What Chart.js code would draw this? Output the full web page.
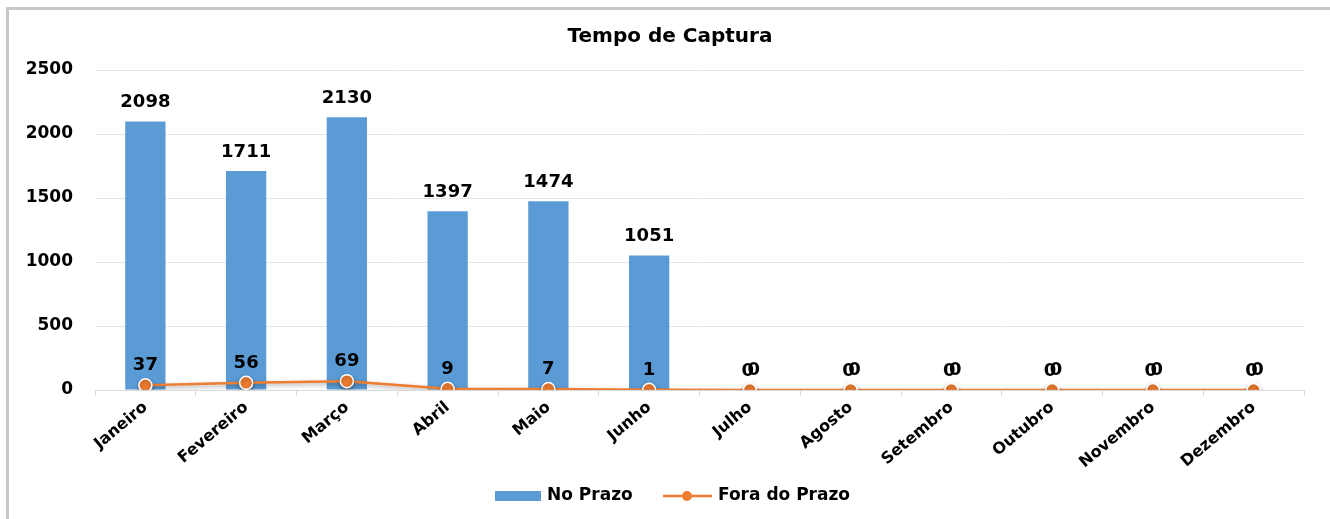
<!DOCTYPE html>
<html>
<head>
<meta charset="utf-8">
<script src="https://cdn.jsdelivr.net/npm/chart.js@4"></script>
<style>
  html, body { margin:0; padding:0; background:#fff; }
  #wrap { position:relative; width:1330px; height:519px; overflow:hidden; }
  #frame { position:absolute; left:6px; top:7px; width:1330px; height:520px;
           border-top:3px solid #c8c8c8; border-left:3px solid #c8c8c8; box-sizing:border-box; }
  #c { position:absolute; left:0; top:0; }
</style>
</head>
<body>
<div id="wrap">
  <div id="frame"></div>
  <canvas id="c" width="1330" height="519"></canvas>
</div>
<script>
const meses = ["Janeiro","Fevereiro","Março","Abril","Maio","Junho","Julho","Agosto","Setembro","Outubro","Novembro","Dezembro"];
const no_prazo = [2098,1711,2130,1397,1474,1051,0,0,0,0,0,0];
const fora_prazo = [37,56,69,9,7,1,0,0,0,0,0,0];
const y_ticks = [0,500,1000,1500,2000,2500];

const FONT = "'DejaVu Sans', Verdana, sans-serif";
const AZUL = '#5b9bd5';
const LARANJA = '#ed7d31';

// rotulos de dados, titulo e legenda desenhados a mao
const extras = {
  id: 'extras',
  afterDatasetsDraw(chart){
    const ctx = chart.ctx;
    ctx.save();
    ctx.fillStyle = '#000';
    ctx.font = 'bold 18px ' + FONT;
    ctx.textAlign = 'center';
    ctx.textBaseline = 'middle';
    const bars = chart.getDatasetMeta(0).data;
    bars.forEach((b, i) => {
      const dx = no_prazo[i] === 0 ? -2 : 0;
      ctx.fillText(String(no_prazo[i]), b.x + dx, b.y - 19);
    });
    const pts = chart.getDatasetMeta(1).data;
    pts.forEach((p, i) => {
      const dx = fora_prazo[i] === 0 ? 4 : 0;
      ctx.fillText(String(fora_prazo[i]), p.x + dx, p.y - 20);
    });
    // titulo
    ctx.font = 'bold 20px ' + FONT;
    ctx.fillText('Tempo de Captura', 670, 37);
    // legenda
    const ly = 496;
    ctx.fillStyle = AZUL;
    ctx.fillRect(495, ly - 5, 46, 10);
    ctx.fillStyle = '#000';
    ctx.textAlign = 'left';
    ctx.font = 'bold 17px ' + FONT;
    ctx.fillText('No Prazo', 547, ly);
    ctx.strokeStyle = LARANJA;
    ctx.lineWidth = 2.5;
    ctx.beginPath(); ctx.moveTo(663, ly); ctx.lineTo(712, ly); ctx.stroke();
    ctx.fillStyle = LARANJA;
    ctx.beginPath(); ctx.arc(687, ly, 5, 0, Math.PI*2); ctx.fill();
    ctx.fillStyle = '#000';
    ctx.fillText('Fora do Prazo', 718, ly);
    ctx.restore();
  }
};

const sombra = {
  id: 'sombra',
  beforeDatasetDraw(chart, args){
    if (args.index === 1) {
      chart.ctx.save();
      chart.ctx.shadowColor = 'rgba(0,0,0,0.35)';
      chart.ctx.shadowBlur = 4;
      chart.ctx.shadowOffsetY = 2;
    }
  },
  afterDatasetDraw(chart, args){
    if (args.index === 1) chart.ctx.restore();
  }
};

new Chart(document.getElementById('c'), {
  type: 'bar',
  data: {
    labels: meses,
    datasets: [{
      label: 'No Prazo',
      data: no_prazo,
      backgroundColor: AZUL,
      barPercentage: 0.4,
      categoryPercentage: 1,
      order: 2
    },{
      type: 'line',
      label: 'Fora do Prazo',
      data: fora_prazo,
      borderColor: LARANJA,
      borderWidth: 2.5,
      backgroundColor: LARANJA,
      pointBackgroundColor: LARANJA,
      pointBorderColor: '#fff',
      pointBorderWidth: 1.5,
      pointRadius: 6.5,
      tension: 0,
      order: 1
    }]
  },
  options: {
    responsive: false,
    animation: false,
    layout: { padding: { top: 70, right: 26, left: 0, bottom: 0 } },
    plugins: { legend: { display: false }, title: { display: false }, tooltip: { enabled: false } },
    scales: {
      y: {
        min: 0, max: 2500,
        afterBuildTicks(scale){ scale.ticks = y_ticks.map(v => ({ value: v })); },
        afterFit(scale){ scale.width = 95; },
        border: { display: false },
        grid: { color: '#e4e4e4', drawTicks: false },
        ticks: { color: '#000', padding: 22, callback: v => String(v), font: { family: FONT, weight: 'bold', size: 17 } }
      },
      x: {
        afterFit(scale){ scale.height = 129; },
        border: { color: '#d9d9d9', width: 1 },
        grid: { drawOnChartArea: false, color: '#d9d9d9', tickLength: 6 },
        ticks: { color: '#000', minRotation: 40, maxRotation: 40, padding: 2, font: { family: FONT, weight: 'bold', size: 16 } }
      }
    }
  },
  plugins: [sombra, extras]
});
</script>
</body>
</html>
